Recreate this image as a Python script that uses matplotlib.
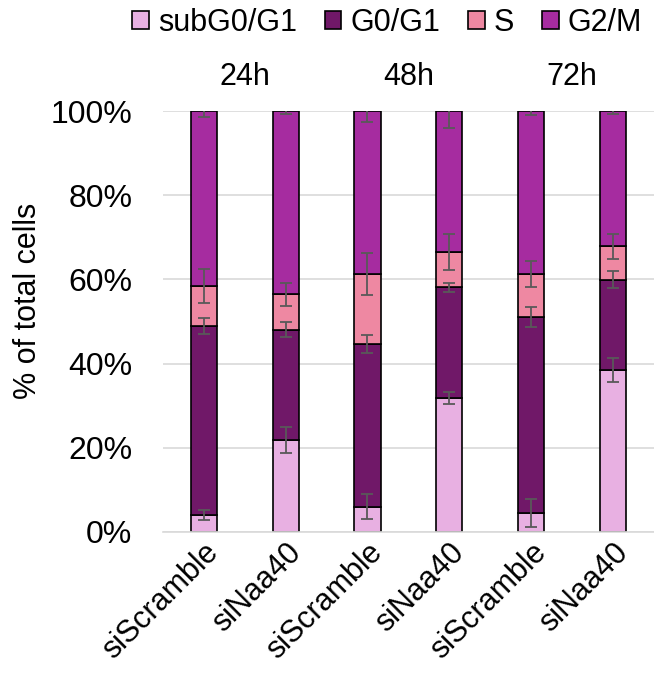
import matplotlib.pyplot as plt
import numpy as np

plt.rcParams['font.family'] = ['Liberation Sans', 'DejaVu Sans']

samples = ['siScramble', 'siNaa40', 'siScramble', 'siNaa40', 'siScramble', 'siNaa40']
timepoints = ['24h', '48h', '72h']
phases = ['subG0/G1', 'G0/G1', 'S', 'G2/M']
colors = ['#E8B0E2', '#701868', '#EE88A2', '#A62CA0']

# mean % of cells in each phase, per sample
sub_g0g1 = [4.0, 21.9, 6.0, 31.8, 4.6, 38.5]
g0g1 = [44.9, 26.2, 38.7, 26.3, 46.5, 21.4]
s_phase = [9.5, 8.4, 16.6, 8.5, 10.2, 8.0]
g2m = [41.6, 43.5, 38.7, 33.4, 38.7, 32.1]

# error (SD) for each phase
sub_err = [1.2, 3.1, 3.0, 1.5, 3.3, 2.8]
g0g1_err = [1.9, 1.8, 2.1, 1.0, 2.3, 2.0]
s_err = [4.0, 2.7, 4.9, 4.3, 3.0, 3.0]
g2m_err = [1.5, 0.8, 2.6, 4.0, 1.0, 0.8]

values = [sub_g0g1, g0g1, s_phase, g2m]
errors = [sub_err, g0g1_err, s_err, g2m_err]

fig = plt.figure(figsize=(6.54, 6.86), dpi=100)
ax = fig.add_axes([0.249, 0.2245, 0.751, 0.6135])

x = np.arange(len(samples))
bottom = np.zeros(len(samples))
for name, vals, errs, col in zip(phases, values, errors, colors):
    vals = np.array(vals)
    ax.bar(x, vals, width=0.32, bottom=bottom, color=col, edgecolor='black',
           linewidth=1.2, label=name, zorder=2)
    top = bottom + vals
    ax.errorbar(x, top, yerr=errs, fmt='none', ecolor='#595959', elinewidth=1.3,
                capsize=4.3, capthick=1.3, zorder=3)
    bottom = top

ax.set_xlim(-0.5, len(samples) - 0.5)
ax.set_ylim(0, 100)
ax.set_yticks(np.arange(0, 101, 20))
ax.set_yticklabels([f'{v}%' for v in range(0, 101, 20)])
ax.yaxis.grid(True, color='#D9D9D9', linewidth=1.2, zorder=0)
ax.set_axisbelow(True)
for side in ['top', 'right', 'left']:
    ax.spines[side].set_visible(False)
ax.spines['bottom'].set_color('#D9D9D9')
ax.spines['bottom'].set_linewidth(1.2)
ax.tick_params(length=0, labelsize=23, pad=4)
ax.tick_params(axis='y', pad=22)

ax.set_xticks(x)
ax.set_xticklabels(samples, rotation=45, ha='right', rotation_mode='anchor')
for lbl in ax.get_xticklabels():
    lbl.set_fontsize(22)

ax.set_ylabel('% of total cells', fontsize=22)
ax.yaxis.set_label_coords(-0.245, 0.55)

# time point headers above each pair of bars
for i, tp in enumerate(timepoints):
    ax.text(2 * i + 0.5, 108, tp, ha='center', va='center', fontsize=22,
            clip_on=False)

fig.legend(loc='upper right', bbox_to_anchor=(1.01, 1.015), ncol=4, fontsize=22,
           frameon=False, handlelength=0.55, handleheight=0.55, handletextpad=0.3,
           columnspacing=0.9, borderaxespad=0.2)

fig.savefig('out.png', dpi=100)
